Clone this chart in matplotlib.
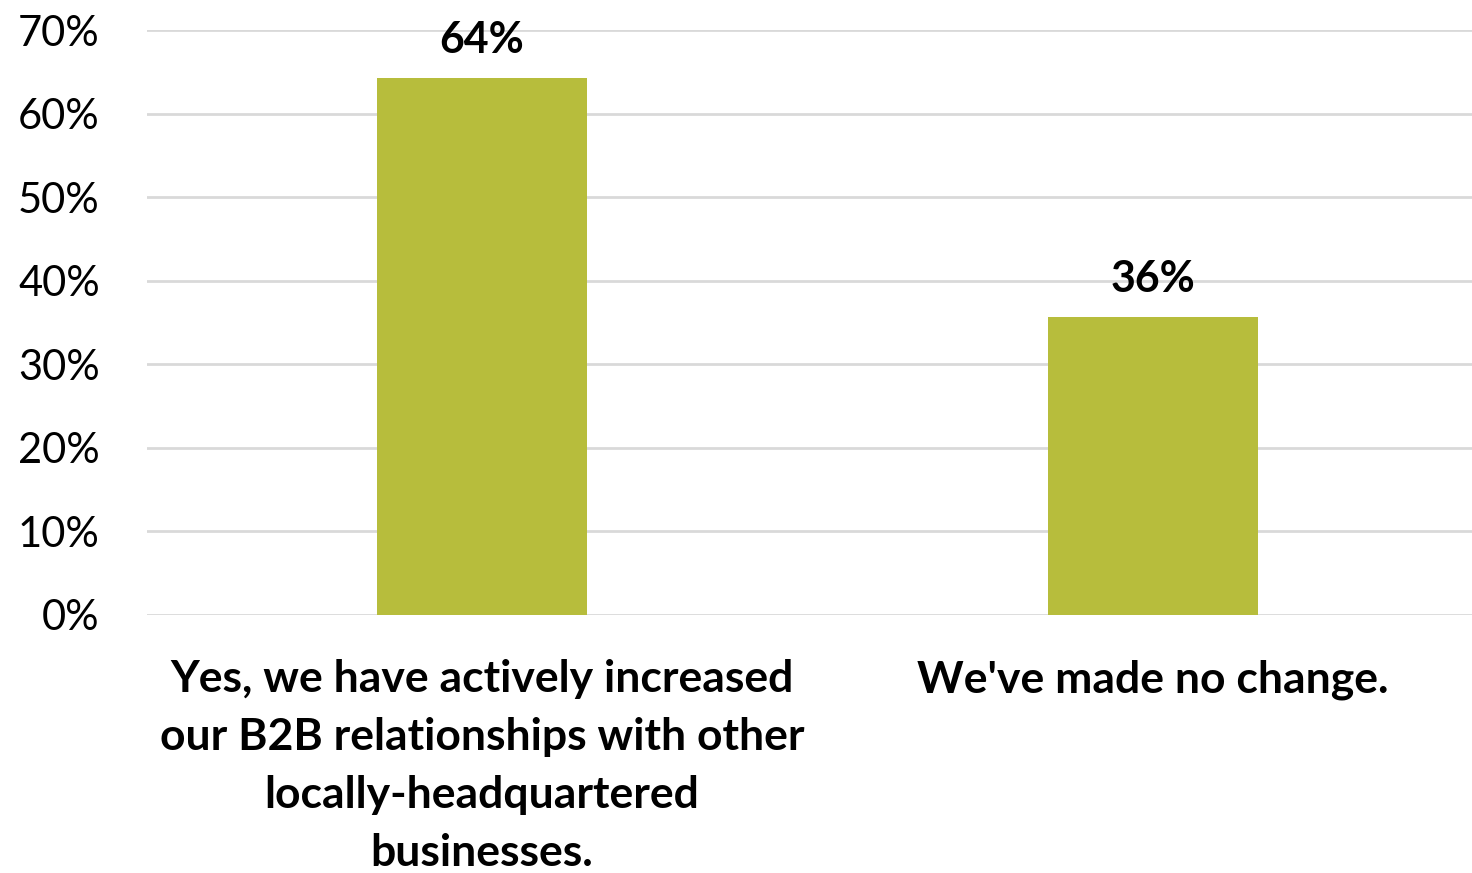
import matplotlib.pyplot as plt
from matplotlib.ticker import FuncFormatter

# chart data
categories = [
    "Yes, we have actively increased\nour B2B relationships with other\nlocally-headquartered\nbusinesses.",
    "We've made no change.",
]
values = [64.3, 35.7]
yticks = [0, 10, 20, 30, 40, 50, 60, 70]

bar_color = "#B7BD3C"
grid_color = "#D9D9D9"

plt.rcParams["font.family"] = ["Lato", "DejaVu Sans"]

fig = plt.figure(figsize=(14.72, 8.73), dpi=100)
ax = fig.add_axes([147 / 1472, 1 - 615 / 873, 1 - 147 / 1472, (615 - 30) / 873])

x = list(range(len(categories)))
ax.bar(x, values, width=0.313, color=bar_color, zorder=3)

for xi, v in zip(x, values):
    ax.annotate(f"{v:.0f}%", (xi, v), xytext=(0, 13), textcoords="offset points",
                ha="center", va="bottom", fontsize=31, fontweight="bold", color="black")

ax.set_ylim(0, 70)
ax.set_xlim(-0.499, 1.475)
ax.set_yticks(yticks)
ax.yaxis.set_major_formatter(FuncFormatter(lambda v, p: f"{v:.0f}%"))
ax.set_xticks(x)
ax.set_xticklabels(categories, fontsize=32, fontweight="bold", linespacing=1.54)

ax.grid(axis="y", color=grid_color, linewidth=2, zorder=0)
for s in ax.spines.values():
    s.set_visible(False)
ax.tick_params(axis="y", length=0, labelsize=30, pad=34)
ax.tick_params(axis="x", length=0, pad=32)
for lbl in ax.get_yticklabels():
    lbl.set_horizontalalignment("right")

fig.savefig("out.png", dpi=100)
